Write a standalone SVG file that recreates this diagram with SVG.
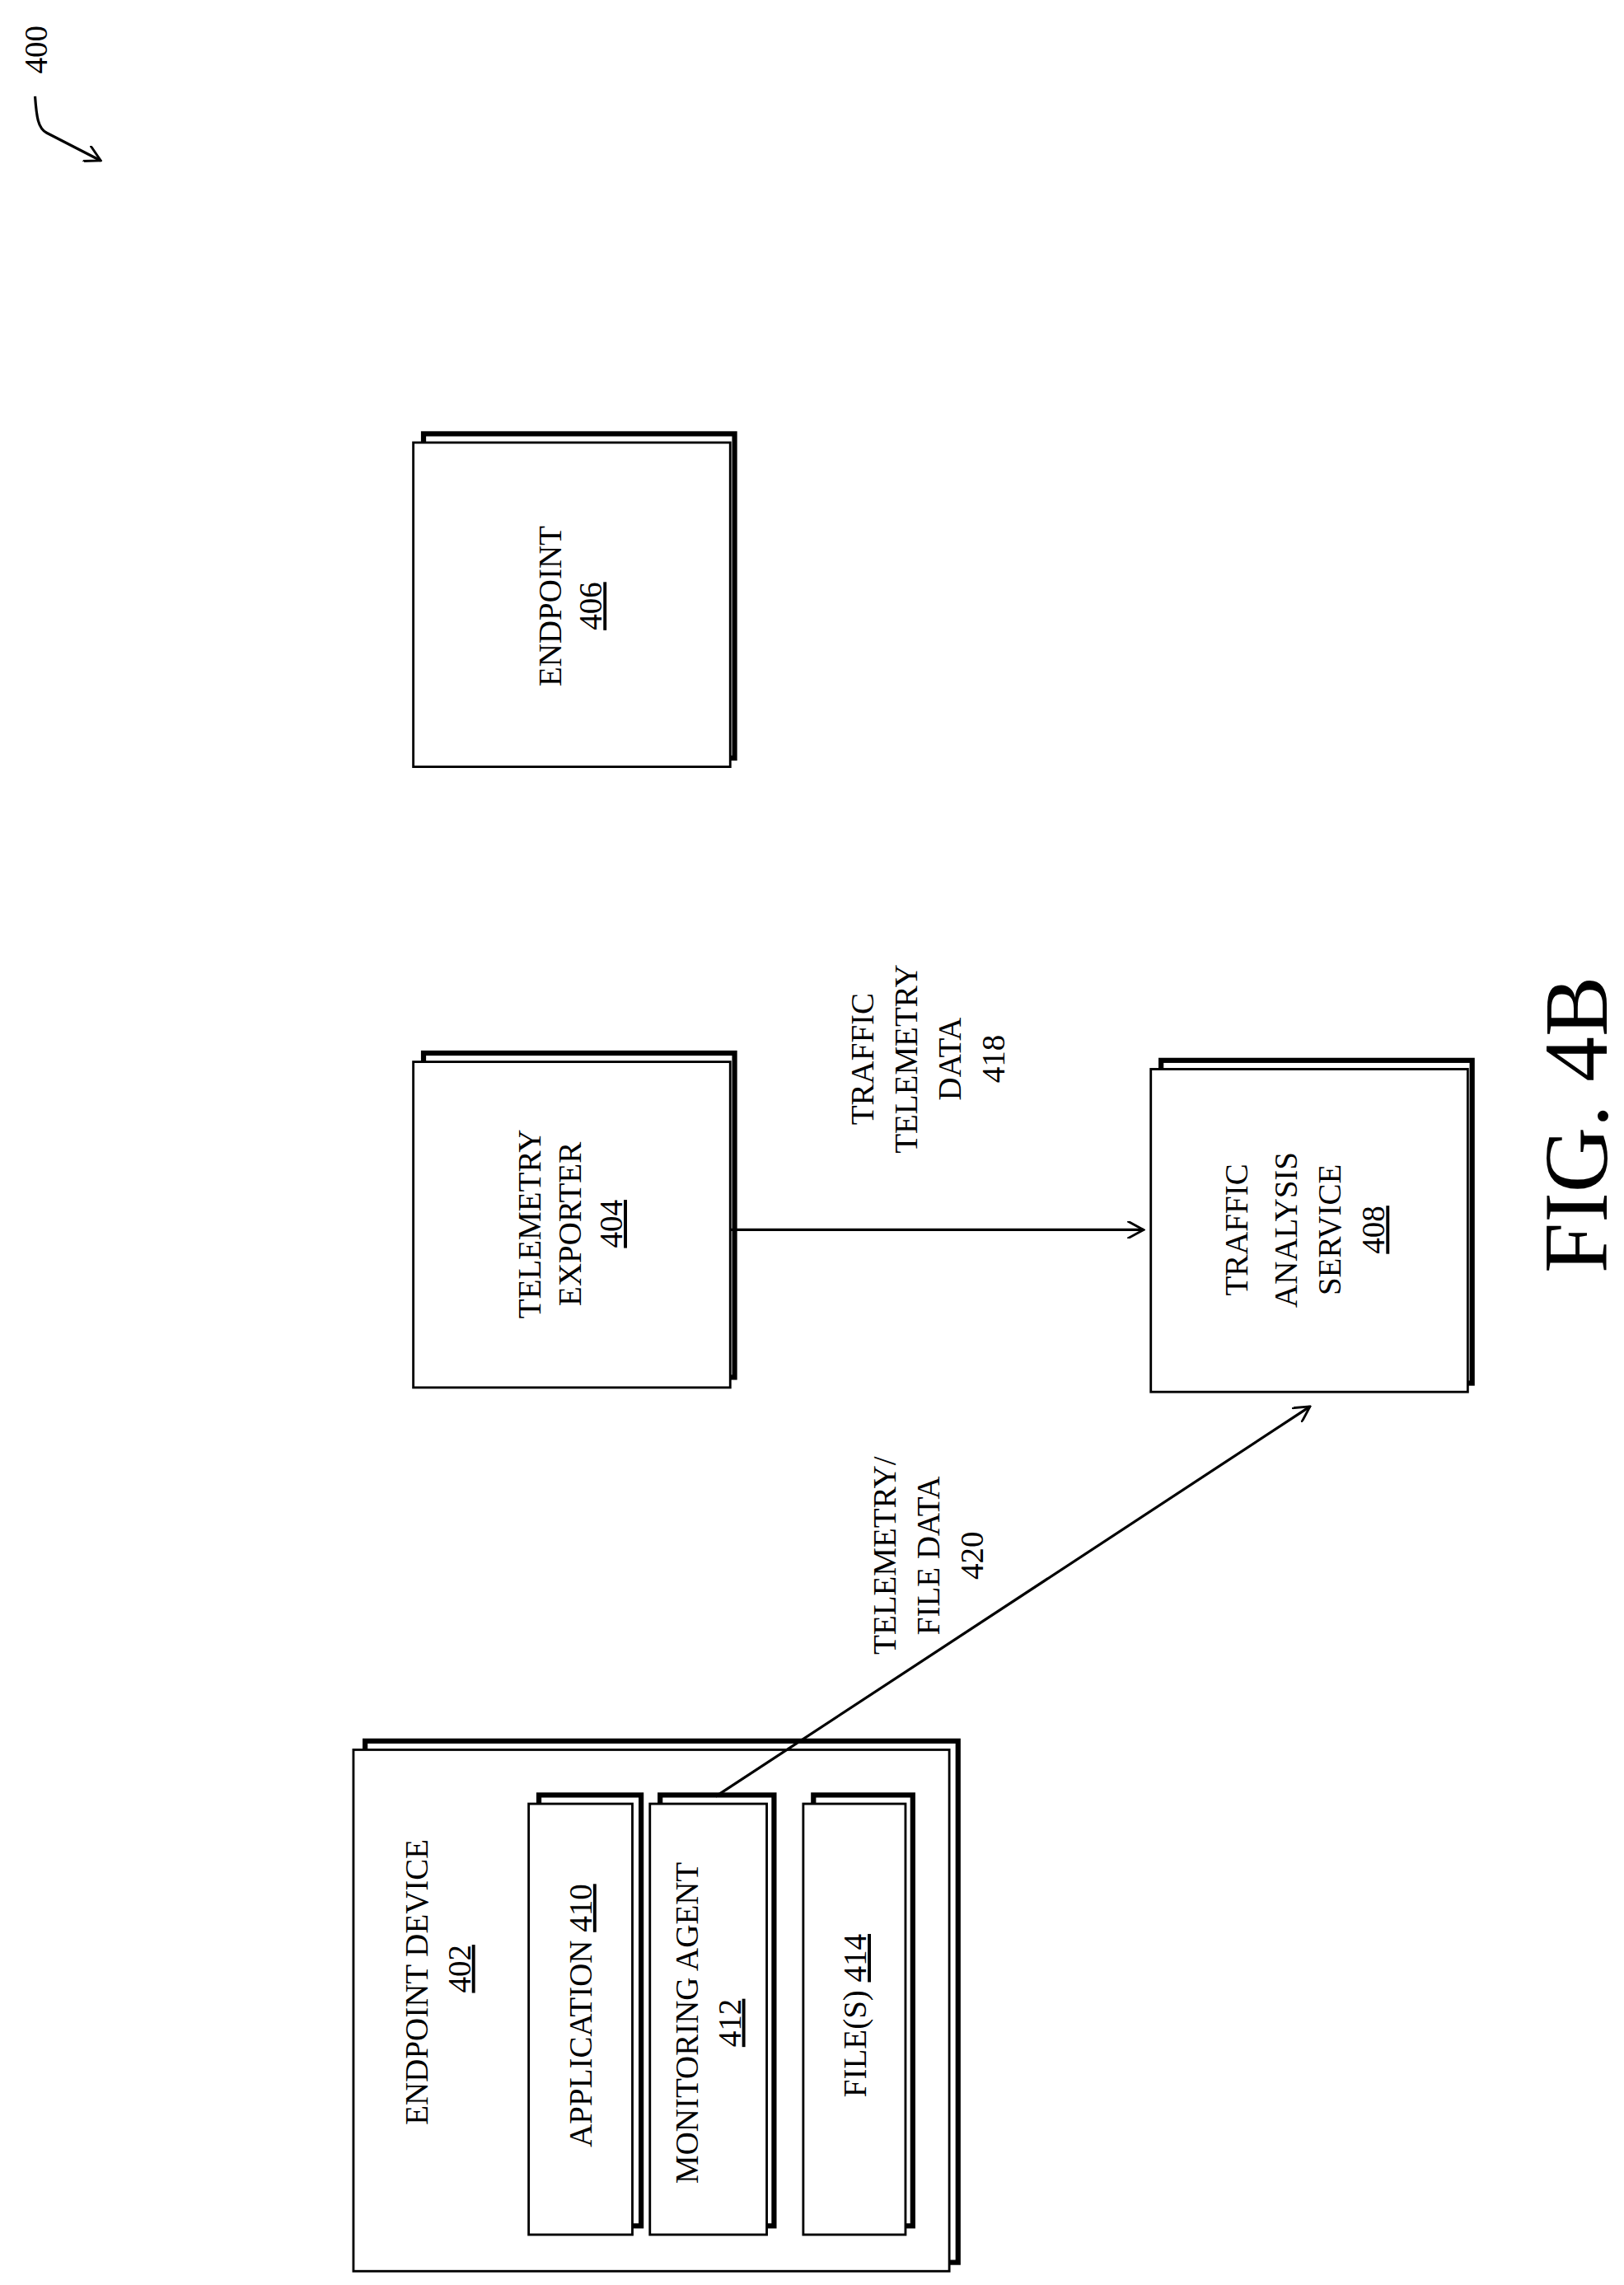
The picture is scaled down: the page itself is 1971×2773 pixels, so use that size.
<svg xmlns="http://www.w3.org/2000/svg" width="1971" height="2773" viewBox="0 0 1971 2773">
<style>
.b{fill:#fff;stroke:#000;stroke-width:1.6}
.s{fill:#fff;stroke:#000;stroke-width:3.5}
.t{font-family:"Liberation Serif",serif;font-size:22px;text-anchor:middle;fill:#000}
.u{text-decoration:underline}
.c{fill:none;stroke:#000;stroke-width:1.8}
</style>
<defs><marker id="a" markerWidth="12" markerHeight="12" refX="11" refY="6" orient="auto" markerUnits="userSpaceOnUse"><path d="M0,0 L11,6 L0,12" fill="none" stroke="#000" stroke-width="1.6"/></marker></defs>
<rect width="1971" height="2773" fill="#fff"/>
<g transform="scale(1.7725)">
<g id="ref400">
<text class="t" transform="translate(32,34) rotate(-90)">400</text>
<path class="c" d="M24,66 C25,80 26,88 32,91 L69,110" marker-end="url(#a)"/>
</g>
<g id="n406">
<rect class="s" x="290" y="297" width="213" height="222"/>
<rect class="b" x="283" y="303" width="217" height="222"/>
<text class="t" transform="translate(384,415) rotate(-90)">ENDPOINT</text>
<text class="t u" transform="translate(412,415) rotate(-90)">406</text>
</g>
<g id="n404">
<rect class="s" x="290" y="721" width="213" height="222"/>
<rect class="b" x="283" y="727" width="217" height="223"/>
<text class="t" transform="translate(370,838) rotate(-90)">TELEMETRY</text>
<text class="t" transform="translate(398,838) rotate(-90)">EXPORTER</text>
<text class="t u" transform="translate(426,838) rotate(-90)">404</text>
</g>
<g id="n408">
<rect class="s" x="795" y="726" width="213" height="221"/>
<rect class="b" x="788" y="732" width="217" height="221"/>
<text class="t" transform="translate(854,842) rotate(-90)">TRAFFIC</text>
<text class="t" transform="translate(888,842) rotate(-90)">ANALYSIS</text>
<text class="t" transform="translate(918,842) rotate(-90)">SERVICE</text>
<text class="t u" transform="translate(948,842) rotate(-90)">408</text>
</g>
<g id="n402">
<rect class="s" x="250" y="1192" width="406" height="357"/>
<rect class="b" x="242" y="1198" width="408" height="357"/>
<text class="t" transform="translate(293,1357) rotate(-90)">ENDPOINT DEVICE</text>
<text class="t u" transform="translate(322,1348) rotate(-90)">402</text>
</g>
<g id="n410">
<rect class="s" x="369" y="1229" width="70" height="295"/>
<rect class="b" x="362" y="1235" width="71" height="295"/>
<text class="t" transform="translate(405,1380) rotate(-90)">APPLICATION <tspan class="u">410</tspan></text>
</g>
<g id="n412">
<rect class="s" x="452" y="1229" width="78" height="295"/>
<rect class="b" x="445" y="1235" width="80" height="295"/>
<text class="t" transform="translate(478,1385) rotate(-90)">MONITORING AGENT</text>
<text class="t u" transform="translate(507,1385) rotate(-90)">412</text>
</g>
<g id="n414">
<rect class="s" x="557" y="1229" width="68" height="295"/>
<rect class="b" x="550" y="1235" width="70" height="295"/>
<text class="t" transform="translate(593,1380) rotate(-90)">FILE(S) <tspan class="u">414</tspan></text>
</g>
<g id="connectors">
<line class="c" x1="500" y1="842" x2="783" y2="842" marker-end="url(#a)"/>
<line class="c" x1="490" y1="1230" x2="897" y2="963" marker-end="url(#a)"/>
<text class="t" transform="translate(598,725) rotate(-90)">TRAFFIC</text>
<text class="t" transform="translate(628,725) rotate(-90)">TELEMETRY</text>
<text class="t" transform="translate(658,725) rotate(-90)">DATA</text>
<text class="t" transform="translate(688,725) rotate(-90)">418</text>
<text class="t" transform="translate(613,1065) rotate(-90)">TELEMETRY/</text>
<text class="t" transform="translate(643,1065) rotate(-90)">FILE DATA</text>
<text class="t" transform="translate(673,1065) rotate(-90)">420</text>
</g>
<text class="t" style="font-size:62px" transform="translate(1100,770) rotate(-90)">FIG. 4B</text>
</g>
</svg>
